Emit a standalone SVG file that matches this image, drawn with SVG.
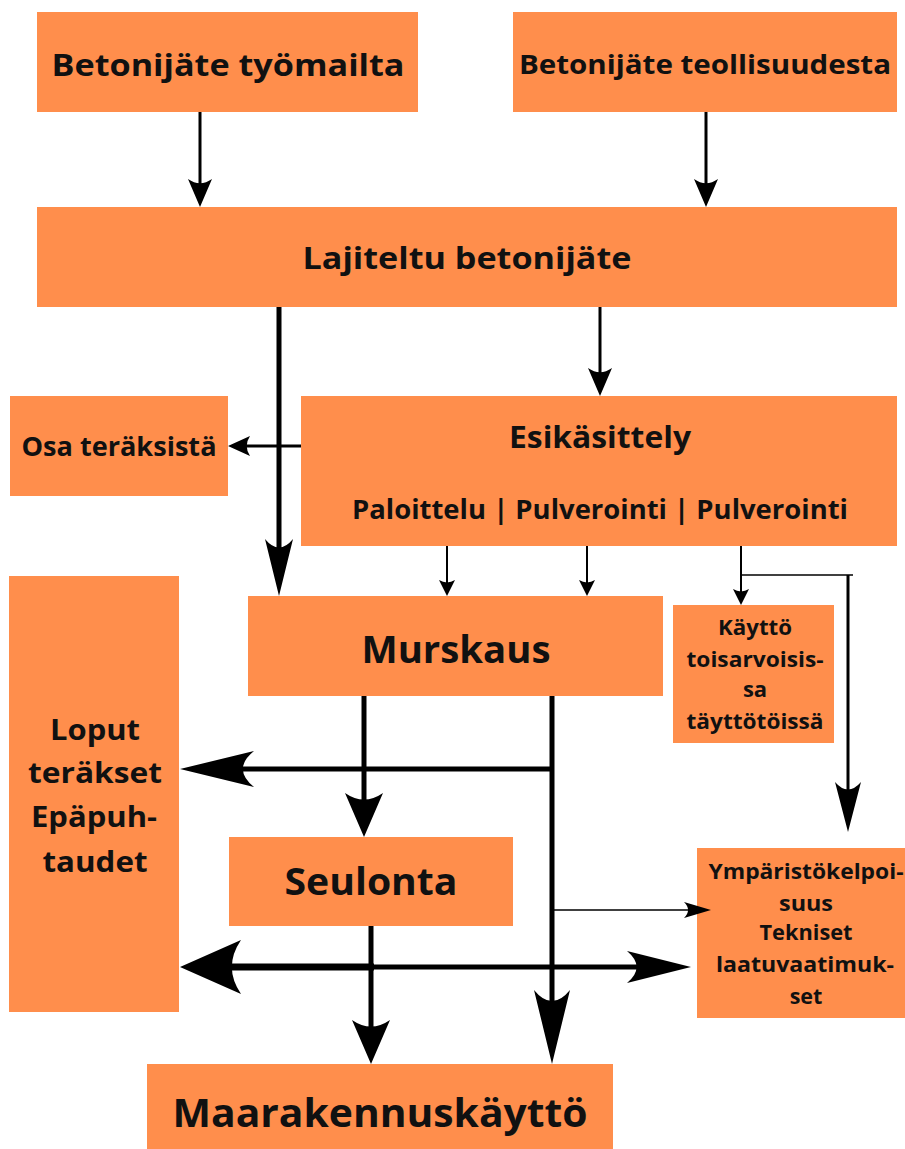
<svg xmlns="http://www.w3.org/2000/svg" width="905" height="1149" viewBox="0 0 905 1149">
<style>
.box{fill:#ff8e4c}
.t{font-family:"Open Sans","DejaVu Sans",sans-serif;font-weight:700;fill:#111;text-anchor:middle}
.c{stroke:#000;fill:none;stroke-linecap:butt}
.ah{fill:#000}
</style>
<defs>
<marker id="mS" viewBox="0 -1 1 2" refX="0.5" refY="0" markerWidth="16" markerHeight="16" markerUnits="userSpaceOnUse" orient="auto" preserveAspectRatio="none"><path class="ah" d="M1,0 L0,-1 Q0.3,0 0,1 Z"/></marker>
<marker id="mM" viewBox="0 -1 1 2" refX="0.5" refY="0" markerWidth="28" markerHeight="24" markerUnits="userSpaceOnUse" orient="auto" preserveAspectRatio="none"><path class="ah" d="M1,0 L0,-1 Q0.3,0 0,1 Z"/></marker>
<marker id="mO" viewBox="0 -1 1 2" refX="0.5" refY="0" markerWidth="22" markerHeight="20" markerUnits="userSpaceOnUse" orient="auto" preserveAspectRatio="none"><path class="ah" d="M1,0 L0,-1 Q0.3,0 0,1 Z"/></marker>
<marker id="mT" viewBox="0 -1 1 2" refX="0.5" refY="0" markerWidth="27" markerHeight="16" markerUnits="userSpaceOnUse" orient="auto" preserveAspectRatio="none"><path class="ah" d="M1,0 L0,-1 Q0.3,0 0,1 Z"/></marker>
<marker id="mL" viewBox="0 -1 1 2" refX="0.5" refY="0" markerWidth="57" markerHeight="28" markerUnits="userSpaceOnUse" orient="auto" preserveAspectRatio="none"><path class="ah" d="M1,0 L0,-1 Q0.3,0 0,1 Z"/></marker>
<marker id="mV" viewBox="0 -1 1 2" refX="0.5" refY="0" markerWidth="50" markerHeight="26" markerUnits="userSpaceOnUse" orient="auto" preserveAspectRatio="none"><path class="ah" d="M1,0 L0,-1 Q0.3,0 0,1 Z"/></marker>
<marker id="mSe" viewBox="0 -1 1 2" refX="0.5" refY="0" markerWidth="44" markerHeight="38" markerUnits="userSpaceOnUse" orient="auto" preserveAspectRatio="none"><path class="ah" d="M1,0 L0,-1 Q0.3,0 0,1 Z"/></marker>
<marker id="mXL" viewBox="0 -1 1 2" refX="0.5" refY="0" markerWidth="74" markerHeight="36" markerUnits="userSpaceOnUse" orient="auto" preserveAspectRatio="none"><path class="ah" d="M1,0 L0,-1 Q0.3,0 0,1 Z"/></marker>
<marker id="mDL" viewBox="0 -1 1 2" refX="0.5" refY="0" markerWidth="61" markerHeight="54" markerUnits="userSpaceOnUse" orient="auto" preserveAspectRatio="none"><path class="ah" d="M1,0 L0,-1 Q0.3,0 0,1 Z"/></marker>
<marker id="mDR" viewBox="0 -1 1 2" refX="0.5" refY="0" markerWidth="64" markerHeight="32" markerUnits="userSpaceOnUse" orient="auto" preserveAspectRatio="none"><path class="ah" d="M1,0 L0,-1 Q0.3,0 0,1 Z"/></marker>
</defs>
<rect width="905" height="1149" fill="#fff"/>

<g id="n-tyomailta"><rect class="box" x="37" y="12" width="381" height="100"/><text class="t" x="228" y="76" font-size="31" textLength="353" lengthAdjust="spacingAndGlyphs">Betonijäte työmailta</text></g>
<g id="n-teollisuudesta"><rect class="box" x="513" y="12" width="384" height="100"/><text class="t" x="705" y="74" font-size="27" textLength="372" lengthAdjust="spacingAndGlyphs">Betonijäte teollisuudesta</text></g>
<g id="n-lajiteltu"><rect class="box" x="37" y="207" width="860" height="100"/><text class="t" x="467" y="269" font-size="31" textLength="329" lengthAdjust="spacingAndGlyphs">Lajiteltu betonijäte</text></g>
<g id="n-osa"><rect class="box" x="10" y="396" width="218" height="100"/><text class="t" x="119" y="456" font-size="27" textLength="195" lengthAdjust="spacingAndGlyphs">Osa teräksistä</text></g>
<g id="n-esikasittely"><rect class="box" x="301" y="396" width="596" height="150"/><text class="t" x="600" y="448" font-size="31" textLength="182" lengthAdjust="spacingAndGlyphs">Esikäsittely</text><text class="t" x="600" y="519" font-size="26.5" textLength="496" lengthAdjust="spacingAndGlyphs">Paloittelu | Pulverointi | Pulverointi</text></g>
<g id="n-murskaus"><rect class="box" x="248" y="596" width="415" height="100"/><text class="t" x="456" y="663" font-size="38" textLength="189" lengthAdjust="spacingAndGlyphs">Murskaus</text></g>
<g id="n-kaytto"><rect class="box" x="673" y="605" width="161" height="138"/>
<text class="t" x="755" y="635" font-size="22" textLength="74" lengthAdjust="spacingAndGlyphs">Käyttö</text>
<text class="t" x="755" y="667" font-size="22" textLength="137" lengthAdjust="spacingAndGlyphs">toisarvoisis-</text>
<text class="t" x="755" y="697" font-size="22">sa</text>
<text class="t" x="755" y="729" font-size="22" textLength="137" lengthAdjust="spacingAndGlyphs">täyttötöissä</text></g>
<g id="n-loput"><rect class="box" x="9" y="576" width="170" height="436"/>
<text class="t" x="95" y="740" font-size="29" textLength="90" lengthAdjust="spacingAndGlyphs">Loput</text>
<text class="t" x="95" y="783" font-size="29" textLength="134" lengthAdjust="spacingAndGlyphs">teräkset</text>
<text class="t" x="94" y="827" font-size="29" textLength="126" lengthAdjust="spacingAndGlyphs">Epäpuh-</text>
<text class="t" x="95" y="872" font-size="29" textLength="105" lengthAdjust="spacingAndGlyphs">taudet</text></g>
<g id="n-seulonta"><rect class="box" x="229" y="837" width="284" height="89"/><text class="t" x="371" y="895" font-size="38" textLength="173" lengthAdjust="spacingAndGlyphs">Seulonta</text></g>
<g id="n-ymparisto"><rect class="box" x="697" y="848" width="208" height="170"/>
<text class="t" x="806" y="879" font-size="21.5" textLength="195" lengthAdjust="spacingAndGlyphs">Ympäristökelpoi-</text>
<text class="t" x="806" y="911" font-size="21.5" textLength="54" lengthAdjust="spacingAndGlyphs">suus</text>
<text class="t" x="806" y="940" font-size="21.5" textLength="93" lengthAdjust="spacingAndGlyphs">Tekniset</text>
<text class="t" x="805" y="972" font-size="21.5" textLength="178" lengthAdjust="spacingAndGlyphs">laatuvaatimuk-</text>
<text class="t" x="806" y="1004" font-size="21.5">set</text></g>
<g id="n-maarakennus"><rect class="box" x="147" y="1064" width="466" height="85"/><text class="t" x="380" y="1127" font-size="40" textLength="415" lengthAdjust="spacingAndGlyphs">Maarakennuskäyttö</text></g>

<g id="connectors">
<line class="c" x1="200" y1="112" x2="200" y2="193" stroke-width="3" marker-end="url(#mM)"/>
<line class="c" x1="706" y1="112" x2="706" y2="193" stroke-width="3" marker-end="url(#mM)"/>
<line class="c" x1="600" y1="307" x2="600" y2="382" stroke-width="3" marker-end="url(#mM)"/>
<line class="c" x1="279" y1="307" x2="279" y2="567.5" stroke-width="5" marker-end="url(#mL)"/>
<line class="c" x1="301" y1="446" x2="239" y2="446" stroke-width="3" marker-end="url(#mO)"/>
<line class="c" x1="447" y1="546" x2="447" y2="588" stroke-width="2" marker-end="url(#mS)"/>
<line class="c" x1="587" y1="546" x2="587" y2="588" stroke-width="2" marker-end="url(#mS)"/>
<line class="c" x1="741" y1="546" x2="741" y2="597" stroke-width="2" marker-end="url(#mS)"/>
<line class="c" x1="741" y1="575" x2="853" y2="575" stroke-width="1.5"/>
<line class="c" x1="848" y1="575" x2="848" y2="807" stroke-width="3" marker-end="url(#mV)"/>
<line class="c" x1="364" y1="696" x2="364" y2="815" stroke-width="5" marker-end="url(#mSe)"/>
<line class="c" x1="552" y1="696" x2="552" y2="1027" stroke-width="5" marker-end="url(#mXL)"/>
<line class="c" x1="554" y1="769" x2="217" y2="769" stroke-width="5" marker-end="url(#mXL)"/>
<line class="c" x1="552" y1="910" x2="697.5" y2="910" stroke-width="1.5" marker-end="url(#mT)"/>
<line class="c" x1="371" y1="926" x2="371" y2="1042" stroke-width="5" marker-end="url(#mSe)"/>
<line class="c" x1="374" y1="967" x2="210.5" y2="967" stroke-width="7" marker-end="url(#mDL)"/>
<line class="c" x1="368" y1="967" x2="659" y2="967" stroke-width="5" marker-end="url(#mDR)"/>
</g>
</svg>
